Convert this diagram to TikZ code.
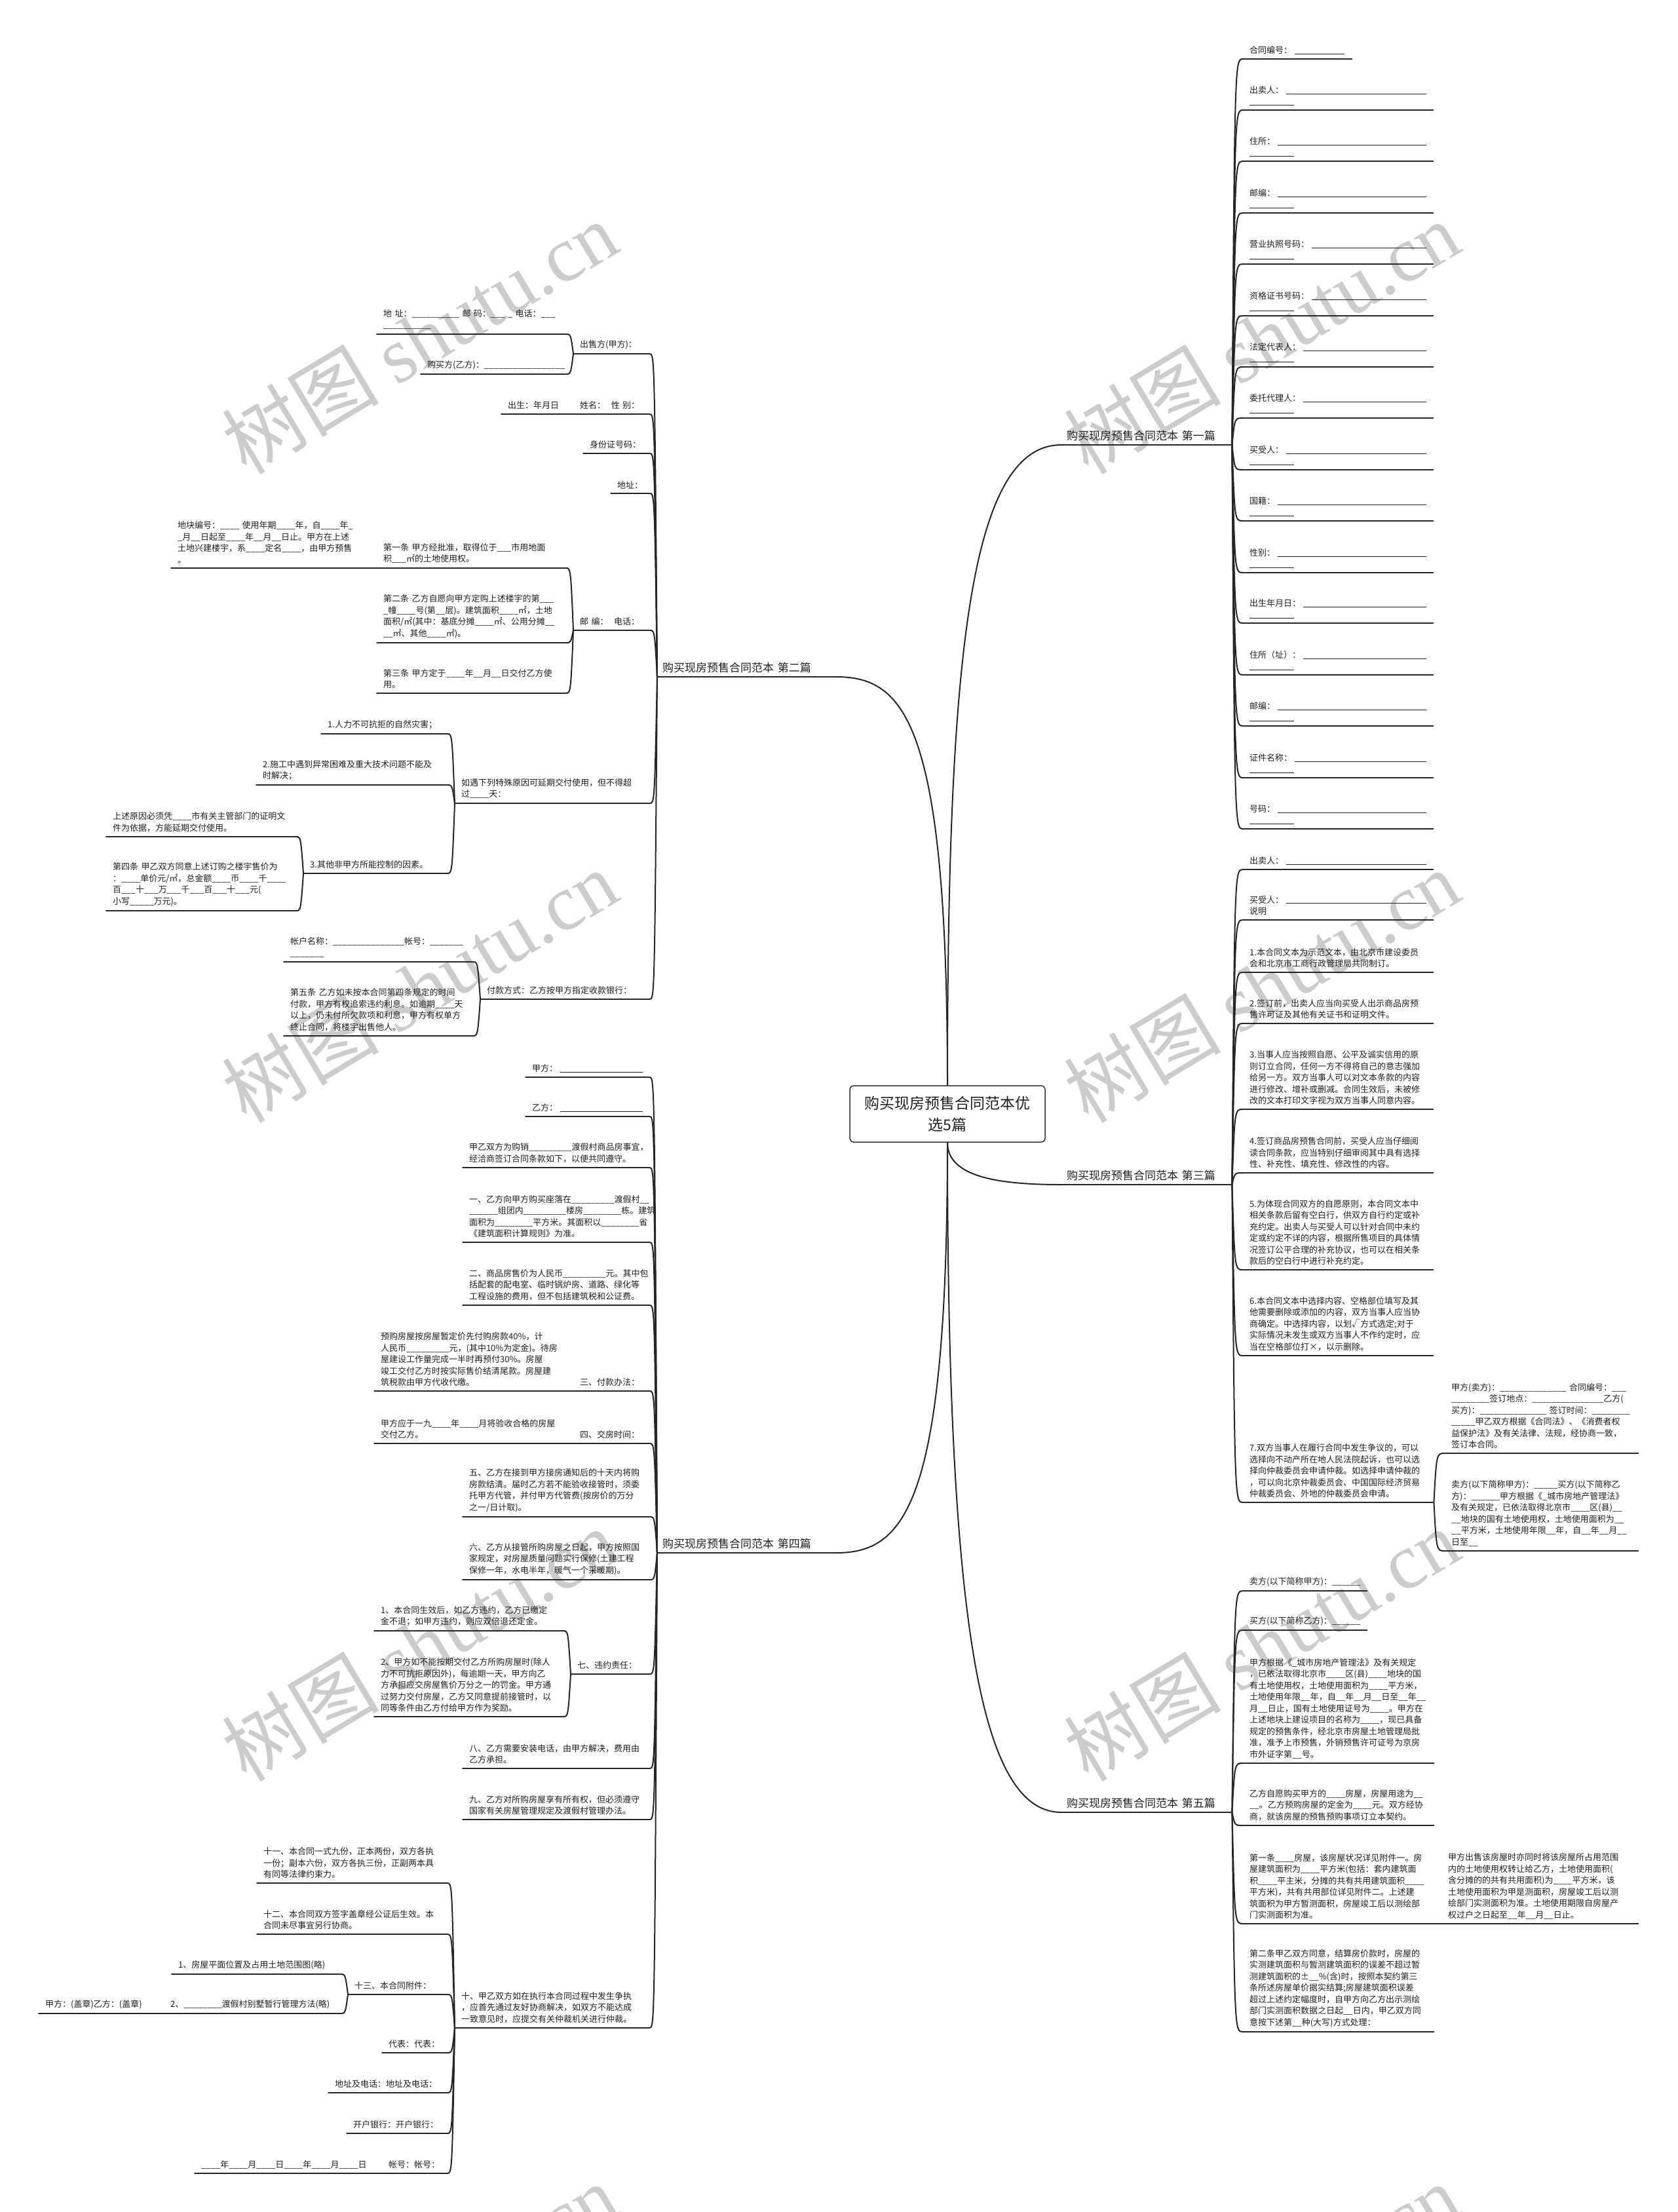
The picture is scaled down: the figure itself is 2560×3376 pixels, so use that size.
\documentclass[tikz,border=0pt]{standalone}
\usepackage{fontspec}
\setmainfont{Noto Sans CJK SC}
\newfontfamily\wmlat{Liberation Serif}
\usetikzlibrary{calc}
\ExplSyntaxOn
\cs_new:Npn \usc #1 { \prg_replicate:nn {#1} { \textunderscore } }
\ExplSyntaxOff
\newcommand\blfill{\leavevmode\leaders\hrule height -0.3pt depth 1.1pt\hfill\kern0pt}
\newcommand\shortbl{\rule[-1.1pt]{68pt}{0.8pt}}
\tikzset{
  conn/.style={draw=black!85, line width=2pt, line cap=round},
  leaf/.style={anchor=south west, inner xsep=10pt, inner ysep=7pt, align=left,
    font=\fontsize{13}{17.5}\selectfont, text=black!88},
  brl/.style={anchor=south west, inner xsep=8pt, inner ysep=6pt, align=left,
    font=\fontsize{17}{20}\selectfont, text=black!88},
  wm/.style={rotate=31, text=black!20, font=\fontsize{120}{130}\selectfont, inner sep=0pt},
  rootbox/.style={draw=black!80, line width=1.5pt, rounded corners=6pt, minimum width=298pt,
    minimum height=86pt, align=center, inner sep=0pt, font=\fontsize{23}{33}\selectfont, text=black!88}
}
\newcommand\leafnode[5]{%
  \pgfmathsetmacro\lfw{#3-#2-20}%
  \node[leaf, text width=\lfw pt] (#1) at (#2,#4) {#5};%
  \draw[conn] (#1.south west) -- (#1.south east);}
\newcommand\fieldA[3]{\leafnode{#1}{1897}{2187}{#2}{#3：\hspace{4pt}\blfill\\\shortbl}}
\newcommand\conR[2]{\draw[conn] (#1.south east) .. controls ($(#1.south east |- #2.south west)+(4,0)$) .. (#2.south west);}
\newcommand\conL[2]{\draw[conn] (#1.south west) .. controls ($(#1.south west |- #2.south east)+(-4,0)$) .. (#2.south east);}
\begin{document}
\begin{tikzpicture}[x=1pt,y=-1pt]
\useasboundingbox (0,0) rectangle (2560,3376);
\fill[white] (0,0) rectangle (2560,3376);
% watermarks
\foreach \i/\x/\y in {1/640/515, 2/1925/515, 3/640/1505, 4/1925/1505, 5/640/2510, 6/1925/2510, 7/640/3510, 8/1925/3510}
  {\node[wm] (wm\i) at (\x,\y) {树图~{\wmlat shutu.cn}};}

% root and main branches
\node[rootbox] (root) at (1446,1700) {购买现房预售合同范本优\\选5篇};
\node[brl, text width=244pt] (b1) at (1620,679) {购买现房预售合同范本~第一篇};
\node[brl, text width=244pt] (b3) at (1620,1808) {购买现房预售合同范本~第三篇};
\node[brl, text width=244pt] (b5) at (1620,2766) {购买现房预售合同范本~第五篇};
\node[brl, text width=256pt] (b2) at (1003,1033) {购买现房预售合同范本~第二篇};
\node[brl, text width=256pt] (b4) at (1003,2370) {购买现房预售合同范本~第四篇};
\foreach \b in {b1,b2,b3,b4,b5} {\draw[conn] (\b.south west) -- (\b.south east);}
\draw[conn] (root.north) .. controls (1446,1000) and (1480,679) .. (b1.south west);
\draw[conn] (root.south) .. controls (1446,1795) and (1520,1808) .. (b3.south west);
\draw[conn] (root.south) .. controls (1446,2500) and (1500,2766) .. (b5.south west);
\draw[conn] (root.north) .. controls (1446,1100) and (1380,1033) .. (b2.south east);
\draw[conn] (root.south) .. controls (1446,2300) and (1380,2370) .. (b4.south east);

% ===== 第一篇 =====
\leafnode{r1}{1897}{2063}{90}{合同编号：\hspace{4pt}\rule[-1.1pt]{76pt}{0.8pt}}
\fieldA{r2}{168}{出卖人}
\fieldA{r3}{246}{住所}
\fieldA{r4}{325}{邮编}
\fieldA{r5}{403}{营业执照号码}
\fieldA{r6}{482}{资格证书号码}
\fieldA{r7}{560}{法定代表人}
\fieldA{r8}{638}{委托代理人}
\fieldA{r9}{717}{买受人}
\fieldA{r10}{795}{国籍}
\fieldA{r11}{874}{性别}
\fieldA{r12}{951}{出生年月日}
\fieldA{r13}{1030}{住所（址）}
\fieldA{r14}{1108}{邮编}
\fieldA{r15}{1187}{证件名称}
\fieldA{r16}{1265}{号码}
\foreach \c in {r1,r2,r3,r4,r5,r6,r7,r8,r9,r10,r11,r12,r13,r14,r15,r16} {\conR{b1}{\c}}

% ===== 第三篇 =====
\leafnode{t1}{1897}{2187}{1327}{出卖人：\hspace{4pt}\blfill}
\leafnode{t2}{1897}{2187}{1404}{买受人：\hspace{4pt}\blfill\\说明}
\leafnode{t3}{1897}{2187}{1484}{1.本合同文本为示范文本，由北京市建设委员\\会和北京市工商行政管理局共同制订。}
\leafnode{t4}{1897}{2187}{1562}{2.签订前，出卖人应当向买受人出示商品房预\\售许可证及其他有关证书和证明文件。}
\leafnode{t5}{1897}{2187}{1693}{3.当事人应当按照自愿、公平及诚实信用的原\\则订立合同，任何一方不得将自己的意志强加\\给另一方。双方当事人可以对文本条款的内容\\进行修改、增补或删减。合同生效后，未被修\\改的文本打印文字视为双方当事人同意内容。}
\leafnode{t6}{1897}{2187}{1790}{4.签订商品房预售合同前，买受人应当仔细阅\\读合同条款，应当特别仔细审阅其中具有选择\\性、补充性、填充性、修改性的内容。}
\leafnode{t7}{1897}{2187}{1938}{5.为体现合同双方的自愿原则，本合同文本中\\相关条款后留有空白行，供双方自行约定或补\\充约定。出卖人与买受人可以针对合同中未约\\定或约定不详的内容，根据所售项目的具体情\\况签订公平合理的补充协议，也可以在相关条\\款后的空白行中进行补充约定。}
\leafnode{t8}{1897}{2187}{2069}{6.本合同文本中选择内容、空格部位填写及其\\他需要删除或添加的内容，双方当事人应当协\\商确定。中选择内容，以划√方式选定;对于\\实际情况未发生或双方当事人不作约定时，应\\当在空格部位打×，以示删除。}
\leafnode{t9}{1897}{2188}{2293}{7.双方当事人在履行合同中发生争议的，可以\\选择向不动产所在地人民法院起诉，也可以选\\择向仲裁委员会申请仲裁。如选择申请仲裁的\\，可以向北京仲裁委员会、中国国际经济贸易\\仲裁委员会、外地的仲裁委员会申请。}
\leafnode{t9a}{2205}{2500}{2218}{甲方(卖方)：\usc{14}~合同编号：\usc{3}\\\usc{8}签订地点：\usc{15}乙方(\\买方)：\usc{14}~签订时间：\usc{8}\\\usc{5}甲乙双方根据《合同法》、《消费者权\\益保护法》及有关法律、法规，经协商一致，\\签订本合同。}
\leafnode{t9b}{2205}{2500}{2367}{卖方(以下简称甲方)：\usc{5}买方(以下简称乙\\方)：\usc{6}甲方根据《\usc{1}城市房地产管理法》\\及有关规定，已依法取得北京市\usc{4}区(县)\usc{2}\\\usc{2}地块的国有土地使用权，土地使用面积为\usc{2}\\\usc{2}平方米，土地使用年限\usc{2}年，自\usc{2}年\usc{2}月\usc{2}\\日至\usc{2}}
\foreach \c in {t1,t2,t3,t4,t5,t6,t7,t8,t9} {\conR{b3}{\c}}
\conR{t9}{t9a}
\conR{t9}{t9b}

% ===== 第五篇 =====
\leafnode{f1}{1897}{2086}{2428}{卖方(以下简称甲方)：\usc{6}}
\leafnode{f2}{1897}{2086}{2488}{买方(以下简称乙方)：\usc{6}}
\leafnode{f3}{1897}{2188}{2691}{甲方根据《\usc{1}城市房地产管理法》及有关规定\\，已依法取得北京市\usc{4}区(县)\usc{4}地块的国\\有土地使用权，土地使用面积为\usc{4}平方米，\\土地使用年限\usc{2}年，自\usc{2}年\usc{2}月\usc{2}日至\usc{2}年\usc{2}\\月\usc{2}日止，国有土地使用证号为\usc{4}。甲方在\\上述地块上建设项目的名称为\usc{4}，现已具备\\规定的预售条件，经北京市房屋土地管理局批\\准，准予上市预售，外销预售许可证号为京房\\市外证字第\usc{2}号。}
\leafnode{f4}{1897}{2188}{2786}{乙方自愿购买甲方的\usc{4}房屋，房屋用途为\usc{2}\\\usc{2}。乙方预购房屋的定金为\usc{4}元。双方经协\\商，就该房屋的预售预购事项订立本契约。}
\leafnode{f5}{1897}{2188}{2936}{第一条\usc{4}房屋，该房屋状况详见附件一。房\\屋建筑面积为\usc{4}平方米(包括：套内建筑面\\积\usc{4}平主米，分摊的共有共用建筑面积\usc{4}\\平方米)，共有共用部位详见附件二。上述建\\筑面积为甲方暂测面积，房屋竣工后以测绘部\\门实测面积为准。}
\leafnode{f5a}{2200}{2500}{2936}{甲方出售该房屋时亦同时将该房屋所占用范围\\内的土地使用权转让给乙方，土地使用面积(\\含分摊的的共有共用面积)为\usc{4}平方米，该\\土地使用面积为甲是测面积，房屋竣工后以测\\绘部门实测面积为准。土地使用期限自房屋产\\权过户之日起至\usc{2}年\usc{2}月\usc{2}日止。}
\leafnode{f6}{1897}{2188}{3101}{第二条甲乙双方同意，结算房价款时，房屋的\\实测建筑面积与暂测建筑面积的误差不超过暂\\测建筑面积的±\usc{2}\%(含)时，按照本契约第三\\条所述房屋单价据实结算;房屋建筑面积误差\\超过上述约定幅度时，自甲方向乙方出示测绘\\部门实测面积数据之日起\usc{2}日内，甲乙双方同\\意按下述第\usc{2}种(大写)方式处理：}
\foreach \c in {f1,f2,f3,f4,f5,f6} {\conR{b5}{\c}}
\conR{f5}{f5a}

% ===== 第二篇 =====
\leafnode{s2a}{875}{991}{540}{出售方(甲方)：}
\leafnode{s2a1}{575}{863}{510}{地~址：\usc{10}~邮~码：\usc{3}~\usc{1}~电话：\usc{3}\\\usc{10}}
\leafnode{s2a2}{642}{863}{571}{购买方(乙方)：\usc{17}}
\leafnode{s2b}{875}{991}{632}{姓名：~~性~别：}
\leafnode{s2b1}{765}{863}{632}{出生：年月日}
\leafnode{s2c}{890}{991}{692}{身份证号码：}
\leafnode{s2d}{932}{991}{753}{地址：}
\leafnode{s2e}{875}{991}{962}{邮~编：~~电话：}
\leafnode{s2e1}{575}{863}{867}{第一条~甲方经批准，取得位于\usc{3}市用地面\\积\usc{3}㎡的土地使用权。}
\leafnode{s2e1a}{261}{563}{867}{地块编号：\usc{4}~使用年期\usc{4}年，自\usc{4}年\usc{1}\\\usc{1}月\usc{2}日起至\usc{4}年\usc{2}月\usc{2}日止。甲方在上述\\土地兴建楼宇，系\usc{4}定名\usc{4}，由甲方预售\\。}
\leafnode{s2e2}{575}{863}{981}{第二条~乙方自愿向甲方定购上述楼宇的第\usc{3}\\\usc{1}幢\usc{4}号(第\usc{2}层)。建筑面积\usc{4}㎡，土地\\面积/㎡(其中：基底分摊\usc{4}㎡、公用分摊\usc{2}\\\usc{2}㎡、其他\usc{4}㎡)。}
\leafnode{s2e3}{575}{863}{1058}{第三条~甲方定于\usc{4}年\usc{2}月\usc{2}日交付乙方使\\用。}
\leafnode{s2f}{694}{991}{1226}{如遇下列特殊原因可延期交付使用，但不得超\\过\usc{4}天：}
\leafnode{s2f1}{490}{682}{1120}{1.人力不可抗拒的自然灾害；}
\leafnode{s2f2}{391}{682}{1198}{2.施工中遇到异常困难及重大技术问题不能及\\时解决；}
\leafnode{s2f3}{463}{682}{1333}{3.其他非甲方所能控制的因素。}
\leafnode{s2f3a}{162}{451}{1277}{上述原因必须凭\usc{4}市有关主管部门的证明文\\件为依据，方能延期交付使用。}
\leafnode{s2f3b}{162}{451}{1390}{第四条~甲乙双方同意上述订购之楼宇售价为\\：\usc{4}单价元/㎡，总金额\usc{4}币\usc{4}千\usc{4}\\百\usc{3}十\usc{3}万\usc{3}千\usc{3}百\usc{3}十\usc{3}元(\\小写\usc{5}万元)。}
\leafnode{s2g}{733}{991}{1525}{付款方式：乙方按甲方指定收款银行：}
\leafnode{s2g1}{433}{721}{1468}{帐户名称：\usc{15}帐号：\usc{7}\\\usc{7}}
\leafnode{s2g2}{433}{721}{1581}{第五条~乙方如未按本合同第四条规定的时间\\付款，甲方有权追索违约利息。如逾期\usc{4}天\\以上，仍未付所欠款项和利息，甲方有权单方\\终止合同，将楼宇出售他人。}
\foreach \c in {s2a,s2b,s2c,s2d,s2e,s2f,s2g} {\conL{b2}{\c}}
\conL{s2a}{s2a1}
\conL{s2a}{s2a2}
\conL{s2b}{s2b1}
\conL{s2e}{s2e1}
\conL{s2e1}{s2e1a}
\conL{s2e}{s2e2}
\conL{s2e}{s2e3}
\conL{s2f}{s2f1}
\conL{s2f}{s2f2}
\conL{s2f}{s2f3}
\conL{s2f3}{s2f3a}
\conL{s2f3}{s2f3b}
\conL{s2g}{s2g1}
\conL{s2g}{s2g2}

% ===== 第四篇 =====
\leafnode{g1}{802}{991}{1644}{甲方：\hspace{4pt}\blfill}
\leafnode{g2}{802}{991}{1704}{乙方：\hspace{4pt}\blfill}
\leafnode{g3}{706}{991}{1782}{甲乙双方为购销\usc{9}渡假村商品房事宜，\\经洽商签订合同条款如下，以便共同遵守。}
\leafnode{g4}{706}{991}{1896}{一、乙方向甲方购买座落在\usc{9}渡假村\usc{2}\\\usc{6}组团内\usc{9}楼房\usc{8}栋。建筑\\面积为\usc{8}平方米。其面积以\usc{8}省\\《建筑面积计算规则》为准。}
\leafnode{g5}{706}{991}{1992}{二、商品房售价为人民币\usc{9}元。其中包\\括配套的配电室、临时锅炉房、道路、绿化等\\工程设施的费用，但不包括建筑税和公证费。}
\leafnode{g6}{875}{991}{2123}{三、付款办法：}
\leafnode{g6a}{571}{863}{2123}{预购房屋按房屋暂定价先付购房款40\%，计\\人民币\usc{9}元，(其中10\%为定金)。待房\\屋建设工作量完成一半时再预付30\%。房屋\\竣工交付乙方时按实际售价结清尾款。房屋建\\筑税款由甲方代收代缴。}
\leafnode{g7}{875}{991}{2203}{四、交房时间：}
\leafnode{g7a}{571}{863}{2203}{甲方应于一九\usc{4}年\usc{4}月将验收合格的房屋\\交付乙方。}
\leafnode{g8}{706}{991}{2315}{五、乙方在接到甲方接房通知后的十天内将购\\房款结清。届时乙方若不能验收接管时，须委\\托甲方代管，并付甲方代管费(按房价的万分\\之一/日计取)。}
\leafnode{g9}{706}{991}{2411}{六、乙方从接管所购房屋之日起，甲方按照国\\家规定，对房屋质量问题实行保修(土建工程\\保修一年，水电半年，暖气一个采暖期)。}
\leafnode{g10}{871}{991}{2555}{七、违约责任：}
\leafnode{g10a}{571}{859}{2489}{1、本合同生效后，如乙方违约，乙方已缴定\\金不退；如甲方违约，则应双倍退还定金。}
\leafnode{g10b}{571}{859}{2620}{2、甲方如不能按期交付乙方所购房屋时(除人\\力不可抗拒原因外)，每逾期一天，甲方向乙\\方承担应交房屋售价万分之一的罚金。甲方通\\过努力交付房屋，乙方又同意提前接管时，以\\同等条件由乙方付给甲方作为奖励。}
\leafnode{g11}{706}{991}{2699}{八、乙方需要安装电话，由甲方解决，费用由\\乙方承担。}
\leafnode{g12}{706}{991}{2777}{九、乙方对所购房屋享有所有权，但必须遵守\\国家有关房屋管理规定及渡假村管理办法。}
\leafnode{g13}{694}{991}{3095}{十、甲乙双方如在执行本合同过程中发生争执\\，应首先通过友好协商解决，如双方不能达成\\一致意见时，应提交有关仲裁机关进行仲裁。}
\leafnode{g13a}{392}{682}{2874}{十一、本合同一式九份，正本两份，双方各执\\一份；副本六份，双方各执三份，正副两本具\\有同等法律约束力。}
\leafnode{g13b}{392}{682}{2952}{十二、本合同双方签字盖章经公证后生效。本\\合同未尽事宜另行协商。}
\leafnode{g13c}{531}{682}{3044}{十三、本合同附件：}
\leafnode{g13c1}{262}{519}{3013}{1、房屋平面位置及占用土地范围图(略)}
\leafnode{g13c2}{250}{519}{3073}{2、\usc{8}渡假村别墅暂行管理方法(略)}
\leafnode{g13c2a}{59}{238}{3073}{甲方：(盖章)乙方：(盖章)}
\leafnode{g13d}{583}{682}{3133}{代表：代表：}
\leafnode{g13e}{501}{682}{3194}{地址及电话：地址及电话：}
\leafnode{g13f}{529}{682}{3256}{开户银行：开户银行：}
\leafnode{g13g}{583}{682}{3317}{帐号：帐号：}
\leafnode{g13g1}{297}{571}{3317}{\usc{4}年\usc{4}月\usc{4}日\usc{4}年\usc{4}月\usc{4}日}
\foreach \c in {g1,g2,g3,g4,g5,g6,g7,g8,g9,g10,g11,g12,g13} {\conL{b4}{\c}}
\conL{g6}{g6a}
\conL{g7}{g7a}
\conL{g10}{g10a}
\conL{g10}{g10b}
\conL{g13}{g13a}
\conL{g13}{g13b}
\conL{g13}{g13c}
\conL{g13c}{g13c1}
\conL{g13c}{g13c2}
\conL{g13c2}{g13c2a}
\conL{g13}{g13d}
\conL{g13}{g13e}
\conL{g13}{g13f}
\conL{g13}{g13g}
\conL{g13g}{g13g1}
\end{tikzpicture}
\end{document}
